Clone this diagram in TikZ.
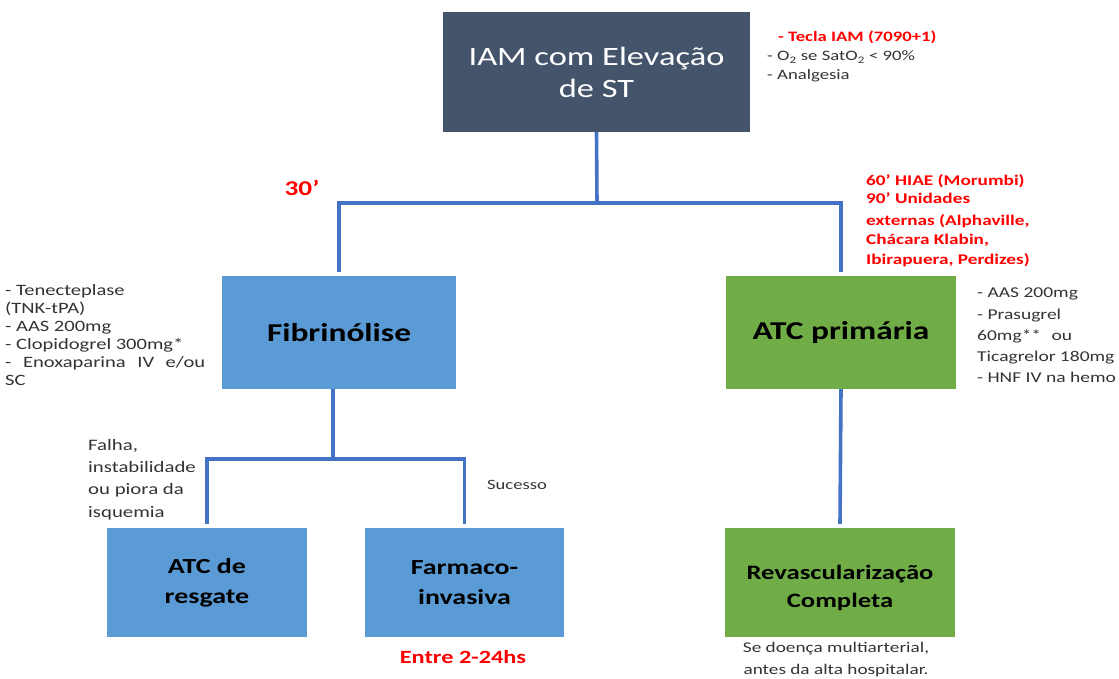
\documentclass[tikz,border=0pt]{standalone}
\usepackage{fontspec}
\setmainfont{Carlito}[FakeStretch=1.3]
\definecolor{topdark}{HTML}{44546A}
\definecolor{boxblue}{HTML}{5B9BD5}
\definecolor{boxgreen}{HTML}{70AD47}
\definecolor{lineblue}{HTML}{4472C4}
\definecolor{notegray}{HTML}{333333}
\definecolor{alertred}{HTML}{FF0000}
\begin{document}
\begin{tikzpicture}[x=1pt,y=-1pt,
  box/.style={draw=none, inner sep=2pt, align=center},
  conn/.style={draw=lineblue, line width=3.6pt},
  note/.style={anchor=north west, inner sep=0pt, align=left, text=notegray},
  rednote/.style={anchor=north west, inner sep=0pt, align=left, text=alertred, font=\bfseries\fontsize{14.8}{17.5}\selectfont}]
\useasboundingbox (0,0) rectangle (1119,679);

% boxes
\node[box, fill=topdark, text=white, minimum width=307pt, minimum height=120pt,
      font=\fontsize{26.5}{33}\selectfont] (top) at (596.5,72) {IAM com Elevação\\[-1pt]de ST};
\node[box, fill=boxblue, minimum width=234pt, minimum height=113pt,
      font=\bfseries\fontsize{25.7}{29}\selectfont] (fib) at (339,332.5) {Fibrinólise};
\node[box, fill=boxgreen, minimum width=230pt, minimum height=113pt,
      font=\bfseries\fontsize{25.7}{29}\selectfont] (atc) at (841,332.5) {ATC primária};
\node[box, fill=boxblue, minimum width=200pt, minimum height=109pt,
      font=\bfseries\fontsize{21.5}{30}\selectfont] (resg) at (207,582.5) {ATC de\\resgate};
\node[box, fill=boxblue, minimum width=199pt, minimum height=109pt,
      font=\bfseries\fontsize{21.5}{30}\selectfont] (farm) at (464.5,582.5) {Farmaco-\\invasiva};
\node[box, fill=boxgreen, minimum width=230pt, minimum height=109pt,
      font=\bfseries\fontsize{20.5}{28}\selectfont] (rev) at (840,582.5) {\rule{0pt}{26pt}Revascularização\\Completa};

% connectors
\coordinate (j1) at (597,203);
\coordinate (j2) at (333,459);
\draw[conn] (top.south) -- (j1);
\draw[conn] ([yshift=4pt]fib.north) |- (j1) -| ([yshift=4pt]atc.north);
\draw[conn] (fib.south -| j2) -- (j2);
\draw[conn] ([yshift=4pt]resg.north) |- (j2) -| ([yshift=4pt]farm.north);
\draw[conn] (atc.south) -- ([yshift=4pt]rev.north);

% notes
\node[note, font=\fontsize{14.4}{19}\selectfont] (n1) at (767,31)
  {\hspace*{11pt}{\color{alertred}\bfseries - Tecla IAM (7090+1)}\\
   - O\textsubscript{2} se SatO\textsubscript{2} < 90\%\\
   - Analgesia};
\node[anchor=center, inner sep=0pt, text=alertred, font=\bfseries\fontsize{21}{22}\selectfont] (t30) at (302,188) {30’};
\node[rednote] (n2) at (866,174.5) {60’ HIAE (Morumbi)\\90’ Unidades\\[4.5pt]externas (Alphaville,\\[2.3pt]Chácara Klabin,\\[2.3pt]Ibirapuera, Perdizes)};
\node[note, font=\fontsize{15.8}{18}\selectfont] (n3) at (5,284)
  {- Tenecteplase\\(TNK-tPA)\\- AAS 200mg\\- Clopidogrel 300mg*\\[0.5pt]\makebox[200pt][s]{- Enoxaparina IV e/ou}\\SC};
\node[note, font=\fontsize{15}{21.2}\selectfont] (n4) at (977,288)
  {- AAS 200mg\\- Prasugrel\\60mg**\hspace{6pt} ou\\Ticagrelor 180mg\\- HNF IV na hemo};
\node[note, font=\fontsize{16}{22.3}\selectfont] (n5) at (88,439)
  {Falha,\\instabilidade\\ou piora da\\isquemia};
\node[note, anchor=west, font=\fontsize{14.3}{18}\selectfont] (n6) at (487,485) {Sucesso};
\node[anchor=center, inner sep=0pt, text=alertred, font=\bfseries\fontsize{18.7}{20}\selectfont] (n7) at (463,657) {Entre 2-24hs};
\node[note, anchor=north, align=center, font=\fontsize{14.8}{21.5}\selectfont] (n8) at (836,642.5)
  {Se doença multiarterial,\\antes da alta hospitalar.};
\end{tikzpicture}
\end{document}
